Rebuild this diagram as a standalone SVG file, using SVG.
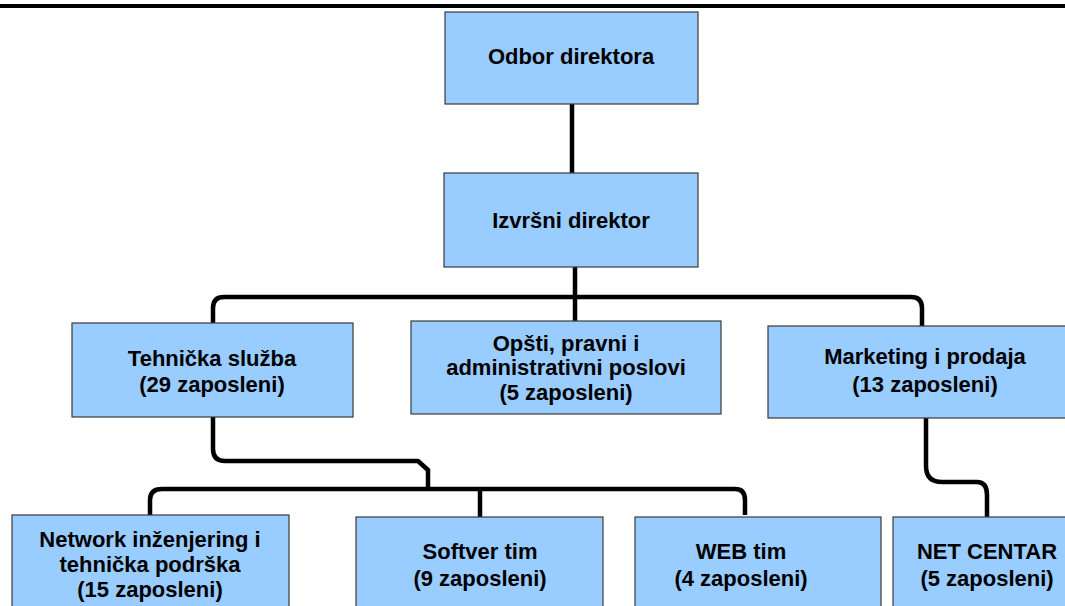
<svg xmlns="http://www.w3.org/2000/svg" width="1065" height="606" viewBox="0 0 1065 606">
<style>
.box{fill:#99CCFF;stroke:#3a3a3a;stroke-width:1.2}
.t{font-family:"Liberation Sans",Arial,sans-serif;font-weight:bold;font-size:22px;fill:#000;text-anchor:middle}
.c{fill:none;stroke:#000;stroke-width:4.5;stroke-linejoin:round;stroke-linecap:butt}
</style>
<rect x="0" y="0" width="1065" height="606" fill="#fff"/>
<rect x="0" y="4" width="1065" height="4" fill="#000"/>
<g id="connectors">
<path class="c" d="M572 104 V173"/>
<path class="c" d="M575 267 V321"/>
<path class="c" d="M213 323 V308 Q213 297 224 297 H911 Q922 297 922 308 V326"/>
<path class="c" d="M213 417 V449 Q213 461 225 461 H418 L428 470 V489"/>
<path class="c" d="M150 517 V500 Q150 489 162 489 H735 Q745 489 745 500 V515"/>
<path class="c" d="M480 489 V517"/>
<path class="c" d="M926 418 V466 Q926 482 942 482 H977 Q987 482 987 495 V517"/>
</g>
<g id="odbor">
<rect class="box" x="445" y="12" width="253" height="92"/>
<text class="t" x="571" y="64">Odbor direktora</text>
</g>
<g id="izvrsni">
<rect class="box" x="444" y="173" width="254" height="94"/>
<text class="t" x="571" y="228">Izvršni direktor</text>
</g>
<g id="tehnicka">
<rect class="box" x="72" y="323" width="281" height="94"/>
<text class="t" x="212" y="366">Tehnička služba</text>
<text class="t" x="212" y="392">(29 zaposleni)</text>
</g>
<g id="opsti">
<rect class="box" x="411" y="321" width="310" height="93"/>
<text class="t" x="566" y="351">Opšti, pravni i</text>
<text class="t" x="566" y="375">administrativni poslovi</text>
<text class="t" x="566" y="400">(5 zaposleni)</text>
</g>
<g id="marketing">
<rect class="box" x="768" y="326" width="300" height="92"/>
<text class="t" x="925" y="364">Marketing i prodaja</text>
<text class="t" x="925" y="392">(13 zaposleni)</text>
</g>
<g id="network">
<rect class="box" x="12" y="515" width="277" height="100"/>
<text class="t" x="150" y="547">Network inženjering i</text>
<text class="t" x="150" y="572">tehnička podrška</text>
<text class="t" x="150" y="597">(15 zaposleni)</text>
</g>
<g id="softver">
<rect class="box" x="356" y="517" width="247" height="100"/>
<text class="t" x="480" y="559">Softver tim</text>
<text class="t" x="480" y="586">(9 zaposleni)</text>
</g>
<g id="web">
<rect class="box" x="635" y="517" width="246" height="100"/>
<text class="t" x="741" y="559">WEB tim</text>
<text class="t" x="741" y="586">(4 zaposleni)</text>
</g>
<g id="netcentar">
<rect class="box" x="893" y="517" width="180" height="100"/>
<text class="t" x="987" y="559">NET CENTAR</text>
<text class="t" x="987" y="586">(5 zaposleni)</text>
</g>
</svg>
